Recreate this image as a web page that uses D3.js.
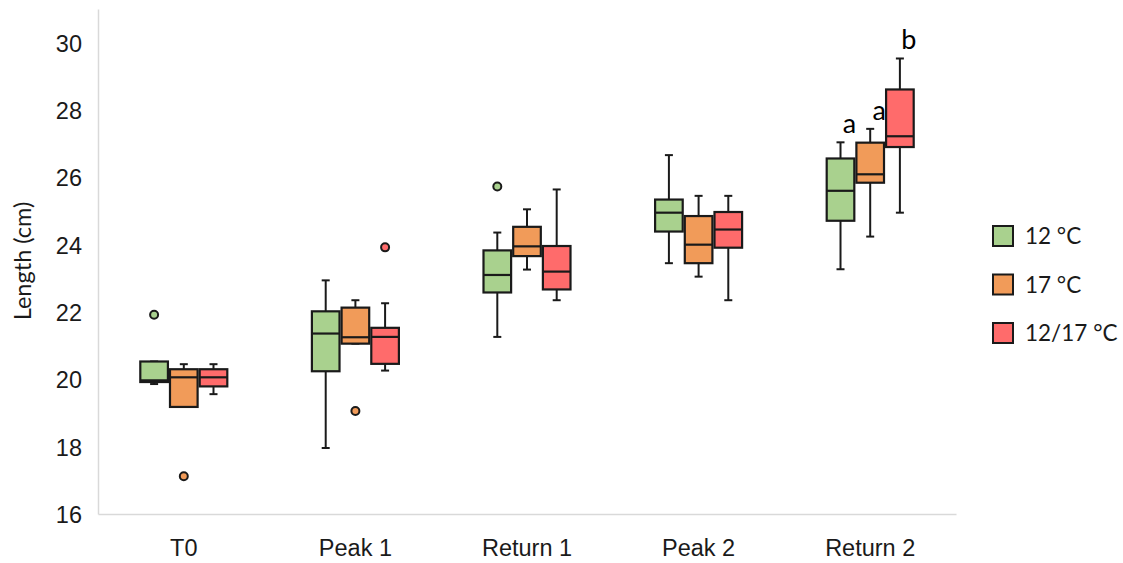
<!DOCTYPE html>
<html>
<head>
<meta charset="utf-8">
<script src="https://cdn.jsdelivr.net/npm/d3@7"></script>
<style>
    body { margin: 0; background: #fff; }
    svg { display: block; font-family: Lato, 'Open Sans', sans-serif; }
</style>
</head>
<body>
<svg id="chart" width="1123" height="563"></svg>
<script>
// categories and series
const categories = ['T0', 'Peak 1', 'Return 1', 'Peak 2', 'Return 2'];
const seriesNames = ['12 °C', '17 °C', '12/17 °C'];
const yTicks = [16, 18, 20, 22, 24, 26, 28, 30];

// [min, q1, median, q3, max] for each category
const stats12 = [
    [19.86, 19.92, 19.97, 20.53, 20.53],
    [17.96, 20.24, 21.36, 22.02, 22.94],
    [21.26, 22.58, 23.10, 23.83, 24.36],
    [23.45, 24.39, 24.95, 25.34, 26.66],
    [23.27, 24.71, 25.60, 26.56, 27.04]
];
const stats17 = [
    [19.18, 19.18, 20.06, 20.30, 20.45],
    [21.06, 21.06, 21.25, 22.13, 22.35],
    [23.26, 23.66, 23.95, 24.53, 25.05],
    [23.05, 23.45, 24.00, 24.85, 25.45],
    [24.24, 25.84, 26.09, 27.03, 27.44]
];
const stats1217 = [
    [19.56, 19.79, 20.06, 20.30, 20.45],
    [20.26, 20.46, 21.26, 21.53, 22.26],
    [22.35, 22.67, 23.20, 23.96, 25.64],
    [22.35, 23.91, 24.45, 24.97, 25.45],
    [24.95, 26.90, 27.22, 28.61, 29.53]
];

// outliers per category
const outliers12 = [[21.92], [], [25.73], [], []];
const outliers17 = [[17.12], [19.06], [], [], []];
const outliers1217 = [[], [23.92], [], [], []];

// significance letters per category
const letters12 = ['', '', '', '', 'a'];
const letters17 = ['', '', '', '', 'a'];
const letters1217 = ['', '', '', '', 'b'];

const colors = ['#a9d18e', '#f19b59', '#ff6b6b'];
const strokeColor = '#1a1a1a';

const series = [
    { name: seriesNames[0], stats: stats12, outliers: outliers12, letters: letters12, color: colors[0] },
    { name: seriesNames[1], stats: stats17, outliers: outliers17, letters: letters17, color: colors[1] },
    { name: seriesNames[2], stats: stats1217, outliers: outliers1217, letters: letters1217, color: colors[2] }
];

const plotLeft = 98;
const plotRight = 956;
const plotTop = 9;
const plotBottom = 514;
const groupWidth = 87;
const capWidth = 8;

const svg = d3.select('#chart');

const xScale = d3.scaleBand().domain(categories).range([plotLeft, plotRight]);
const xSerie = d3.scaleBand().domain(seriesNames)
    .range([-groupWidth / 2, groupWidth / 2])
    .paddingInner(0.07);
const yScale = d3.scaleLinear().domain([16, 31]).range([plotBottom, plotTop]);

// axes
const yAxis = d3.axisLeft(yScale).tickValues(yTicks).tickSize(0).tickPadding(16).tickFormat(d3.format('d'));
const gY = svg.append('g').attr('transform', `translate(${plotLeft},0)`).call(yAxis);
gY.select('.domain').attr('stroke', '#d9d9d9').attr('stroke-width', 1.5);
gY.selectAll('text')
    .attr('font-size', 23.5)
    .attr('fill', '#1a1a1a')
    .attr('dy', '0.36em');

const xAxis = d3.axisBottom(xScale).tickSize(0).tickPadding(25);
const gX = svg.append('g').attr('transform', `translate(0,${plotBottom})`).call(xAxis);
gX.select('.domain').attr('stroke', '#d9d9d9').attr('stroke-width', 1.5);
gX.selectAll('text')
    .attr('font-size', 23.5)
    .attr('fill', '#1a1a1a');

svg.append('text')
    .attr('transform', 'translate(31,261) rotate(-90)')
    .attr('text-anchor', 'middle')
    .attr('font-size', 23.5)
    .attr('fill', '#1a1a1a')
    .text('Length (cm)');

// boxes
series.forEach((s) => {
    const g = svg.append('g');
    s.stats.forEach((st, i) => {
        const cat = categories[i];
        const x0 = xScale(cat) + xScale.bandwidth() / 2 + xSerie(s.name);
        const bw = xSerie.bandwidth();
        const cx = x0 + bw / 2;
        const [mn, q1, med, q3, mx] = st;

        // whiskers
        g.append('line')
            .attr('x1', cx).attr('x2', cx)
            .attr('y1', yScale(mx)).attr('y2', yScale(q3))
            .attr('stroke', strokeColor).attr('stroke-width', 2);
        g.append('line')
            .attr('x1', cx).attr('x2', cx)
            .attr('y1', yScale(q1)).attr('y2', yScale(mn))
            .attr('stroke', strokeColor).attr('stroke-width', 2);
        [mn, mx].forEach((v) => {
            g.append('line')
                .attr('x1', cx - capWidth / 2).attr('x2', cx + capWidth / 2)
                .attr('y1', yScale(v)).attr('y2', yScale(v))
                .attr('stroke', strokeColor).attr('stroke-width', 2);
        });

        g.append('rect')
            .attr('x', x0)
            .attr('y', yScale(q3))
            .attr('width', bw)
            .attr('height', yScale(q1) - yScale(q3))
            .attr('fill', s.color)
            .attr('stroke', strokeColor)
            .attr('stroke-width', 2.2);

        g.append('line')
            .attr('x1', x0).attr('x2', x0 + bw)
            .attr('y1', yScale(med)).attr('y2', yScale(med))
            .attr('stroke', strokeColor).attr('stroke-width', 2.2);

        s.outliers[i].forEach((v) => {
            g.append('circle')
                .attr('cx', cx)
                .attr('cy', yScale(v))
                .attr('r', 4)
                .attr('fill', s.color)
                .attr('stroke', strokeColor)
                .attr('stroke-width', 2);
        });

        if (s.letters[i]) {
            g.append('text')
                .attr('x', cx + 9)
                .attr('y', yScale(mx) - 9)
                .attr('text-anchor', 'middle')
                .attr('font-size', 27)
                .attr('fill', '#000')
                .text(s.letters[i]);
        }
    });
});

// legend
const legend = svg.selectAll('.legend')
    .data(series)
    .enter()
    .append('g')
    .attr('class', 'legend')
    .attr('transform', (d, i) => `translate(993,${226 + i * 48.5})`);

legend.append('rect')
    .attr('width', 20)
    .attr('height', 20)
    .attr('fill', (d) => d.color)
    .attr('stroke', strokeColor)
    .attr('stroke-width', 2);

legend.append('text')
    .attr('x', 32)
    .attr('y', 10)
    .attr('dy', '0.36em')
    .attr('font-size', 22.5)
    .attr('fill', '#1a1a1a')
    .text((d) => d.name);
</script>
</body>
</html>
